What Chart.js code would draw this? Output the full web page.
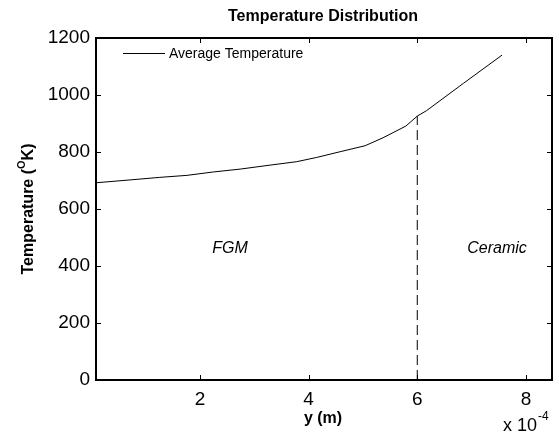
<!DOCTYPE html>
<html>
<head>
<meta charset="utf-8">
<script src="https://cdn.jsdelivr.net/npm/chart.js@4.4.0/dist/chart.umd.min.js"></script>
<style>
  body { margin: 0; background: #fff; }
  #wrap { width: 559px; height: 439px; }
</style>
</head>
<body>
<div id="wrap"><canvas id="tempChart"></canvas></div>
<script>
// position along y, in units of 1e-4 m
const yPos = [0.086, 0.71, 1.26, 1.76, 2.25, 2.74, 3.29, 3.78, 4.15, 4.58, 5.04, 5.37, 5.79, 6.0, 6.17, 6.85, 7.56];
const avgTemp = [692, 702, 711, 718, 730, 740, 754, 766, 781, 801, 822, 850, 891, 926, 945, 1041, 1140];
// FGM / ceramic interface
const interfaceX = [6, 6];
const interfaceY = [0, 926];
const xTicks = [2, 4, 6, 8];
const yTicks = [0, 200, 400, 600, 800, 1000, 1200];

const FONT = '"Liberation Sans", Arial, sans-serif';

const decorPlugin = {
    id: 'decor',
    afterDraw(chart) {
        const ctx = chart.ctx;
        const a = chart.chartArea;
        const xs = chart.scales.x;
        const ys = chart.scales.y;
        ctx.save();

        // box
        ctx.strokeStyle = '#000';
        ctx.lineWidth = 2;
        ctx.strokeRect(a.left, a.top, a.right - a.left, a.bottom - a.top);

        // inward ticks on all sides
        ctx.lineWidth = 1;
        ctx.beginPath();
        xTicks.forEach(v => {
            const px = Math.round(xs.getPixelForValue(v)) + 0.5;
            ctx.moveTo(px, a.bottom); ctx.lineTo(px, a.bottom - 5);
            ctx.moveTo(px, a.top); ctx.lineTo(px, a.top + 5);
        });
        yTicks.forEach(v => {
            const py = Math.round(ys.getPixelForValue(v)) + 0.5;
            ctx.moveTo(a.left, py); ctx.lineTo(a.left + 5, py);
            ctx.moveTo(a.right, py); ctx.lineTo(a.right - 5, py);
        });
        ctx.stroke();

        ctx.fillStyle = '#000';
        ctx.textBaseline = 'middle';

        // title
        ctx.font = 'bold 16px ' + FONT;
        ctx.textAlign = 'center';
        ctx.fillText('Temperature Distribution', 323, 17);

        // x axis title
        ctx.fillText('y (m)', 323, 419);

        // y axis title with superscript
        ctx.save();
        ctx.translate(29, 209);
        ctx.rotate(-Math.PI / 2);
        const p1 = 'Temperature (';
        const p2 = 'O';
        const p3 = 'K)';
        ctx.font = 'bold 16px ' + FONT;
        const w1 = ctx.measureText(p1).width;
        const w3 = ctx.measureText(p3).width;
        ctx.font = 'bold 11px ' + FONT;
        const w2 = ctx.measureText(p2).width;
        const total = w1 + w2 + w3;
        let cx = -total / 2;
        ctx.textAlign = 'left';
        ctx.font = 'bold 16px ' + FONT;
        ctx.fillText(p1, cx, 0);
        cx += w1;
        ctx.font = 'bold 11px ' + FONT;
        ctx.fillText(p2, cx, -7);
        cx += w2;
        ctx.font = 'bold 16px ' + FONT;
        ctx.fillText(p3, cx, 0);
        ctx.restore();

        // exponent
        ctx.textAlign = 'left';
        ctx.font = '18px ' + FONT;
        ctx.fillText('x 10', 503, 426);
        const wx = ctx.measureText('x 10').width;
        ctx.font = '12px ' + FONT;
        ctx.fillText('-4', 503 + wx + 1, 417);

        // region labels
        ctx.textAlign = 'center';
        ctx.font = 'italic 16px ' + FONT;
        ctx.fillText('FGM', 230, 249);
        ctx.fillText('Ceramic', 497, 249);

        // legend
        ctx.beginPath();
        ctx.lineWidth = 1;
        ctx.moveTo(123, 53.5); ctx.lineTo(165, 53.5);
        ctx.stroke();
        ctx.textAlign = 'left';
        ctx.font = '14px ' + FONT;
        ctx.fillText('Average Temperature', 169, 54);

        ctx.restore();
    }
};

new Chart(document.getElementById('tempChart'), {
    type: 'line',
    data: {
        datasets: [{
            label: 'Average Temperature',
            data: yPos.map((x, i) => ({ x: x, y: avgTemp[i] })),
            borderColor: '#000',
            borderWidth: 1,
            pointRadius: 0,
            tension: 0,
            fill: false
        }, {
            label: 'Interface',
            data: interfaceX.map((x, i) => ({ x: x, y: interfaceY[i] })),
            borderColor: '#000',
            borderWidth: 1,
            borderDash: [10, 5],
            pointRadius: 0,
            fill: false
        }]
    },
    options: {
        responsive: true,
        maintainAspectRatio: false,
        animation: false,
        layout: { padding: { top: 38, right: 7, left: 0, bottom: 0 } },
        plugins: {
            legend: { display: false },
            title: { display: false },
            tooltip: { enabled: false }
        },
        scales: {
            x: {
                type: 'linear',
                min: 0.086,
                max: 8.48,
                grid: { display: false, drawTicks: false },
                border: { display: false },
                afterBuildTicks: (scale) => { scale.ticks = xTicks.map(v => ({ value: v })); },
                afterFit: (scale) => { scale.height = 59; },
                ticks: {
                    color: '#000',
                    padding: 8,
                    maxRotation: 0,
                    font: { family: FONT, size: 19 },
                    callback: (v) => String(v)
                }
            },
            y: {
                min: 0,
                max: 1200,
                grid: { display: false, drawTicks: false },
                border: { display: false },
                afterBuildTicks: (scale) => { scale.ticks = yTicks.map(v => ({ value: v })); },
                afterFit: (scale) => { scale.width = 96; },
                ticks: {
                    color: '#000',
                    padding: 6,
                    font: { family: FONT, size: 19 },
                    callback: (v) => String(v)
                }
            }
        }
    },
    plugins: [decorPlugin]
});
</script>
</body>
</html>
